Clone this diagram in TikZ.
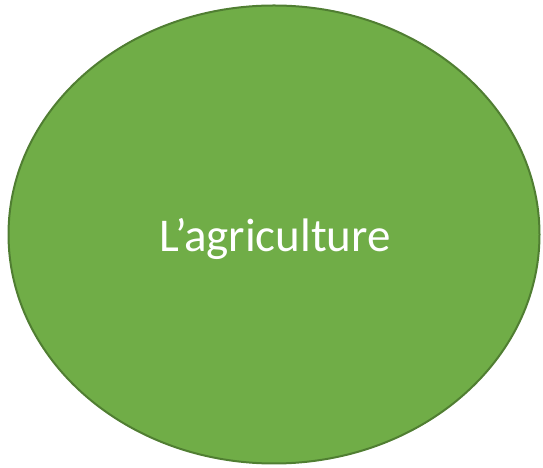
\documentclass[tikz,border=0pt]{standalone}
\usepackage{fontspec}
\setmainfont{Carlito}
\usetikzlibrary{shapes.geometric}
\definecolor{leafgreen}{HTML}{70AD47}
\definecolor{leafedge}{HTML}{507E32}
\begin{document}
\begin{tikzpicture}
  [x=1pt,y=1pt,every node/.style={inner sep=0pt}]
  \useasboundingbox (0,0) rectangle (543,468);
  \node (field) at (274,233.5) [ellipse,draw=leafedge,line width=2pt,fill=leafgreen,
    minimum width=531pt,minimum height=458pt] {};
  \node (label) at (275,216) [anchor=base,text=white,font=\fontsize{47}{56}\selectfont] {L’agriculture};
\end{tikzpicture}
\end{document}
